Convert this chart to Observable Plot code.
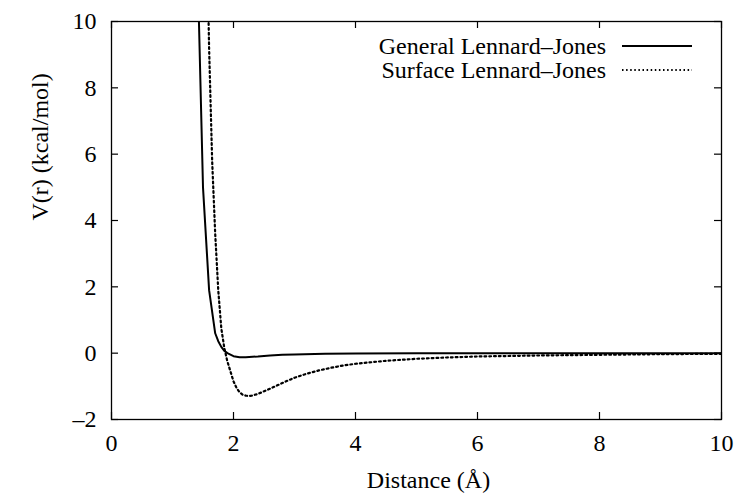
<!DOCTYPE html>
<html>
<head>
<meta charset="utf-8">
<script src="https://cdn.jsdelivr.net/npm/d3@7"></script>
<script src="https://cdn.jsdelivr.net/npm/@observablehq/plot@0.6"></script>
<style>
  html, body { margin: 0; padding: 0; background: #fff; }
  #wrap { position: relative; width: 739px; height: 494px; font-family: "Liberation Serif", "Times New Roman", Times, "DejaVu Serif", serif; }
  #wrap svg text, #wrap svg { font-family: "Liberation Serif", "Times New Roman", Times, "DejaVu Serif", serif !important; }
  #legend { position: absolute; top: 0; left: 0; width: 739px; height: 494px; font-size: 24px; color: #000; pointer-events: none; }
  .row { position: absolute; display: flex; align-items: center; white-space: nowrap; }
</style>
</head>
<body>
<div id="wrap"></div>
<script>
// General Lennard-Jones (solid)
const generalX = [1.4, 1.5, 1.6, 1.7, 1.75, 1.8, 1.85, 1.9, 2.0, 2.1, 2.2, 2.4, 2.6, 2.8, 3.0, 3.5, 4.0, 5.0, 6.0, 7.0, 8.0, 9.0, 10.0];
const generalV = [12.5, 5.0, 1.9, 0.6, 0.36, 0.19, 0.07, 0.0, -0.09, -0.12, -0.12, -0.1, -0.07, -0.05, -0.04, -0.02, -0.01, -0.005, 0, 0, 0, 0, 0];
// Surface Lennard-Jones (dotted)
const surfaceX = [1.55, 1.6, 1.65, 1.7, 1.75, 1.8, 1.85, 1.9, 1.95, 2.0, 2.05, 2.1, 2.15, 2.2, 2.25, 2.3, 2.4, 2.5, 2.6, 2.8, 3.0, 3.2, 3.4, 3.6, 3.8, 4.0, 4.5, 5.0, 5.5, 6.0, 7.0, 8.0, 9.0, 10.0];
const surfaceV = [14, 9.2, 5.8, 3.6, 1.9, 0.75, 0.15, -0.25, -0.55, -0.85, -1.05, -1.18, -1.25, -1.28, -1.29, -1.28, -1.23, -1.15, -1.07, -0.9, -0.74, -0.62, -0.52, -0.44, -0.37, -0.32, -0.23, -0.17, -0.13, -0.1, -0.07, -0.05, -0.03, -0.02];

const seriesNames = ["General Lennard\u2013Jones", "Surface Lennard\u2013Jones"];
const xTicks = [0, 2, 4, 6, 8, 10];
const yTicks = [-2, 0, 2, 4, 6, 8, 10];
const xTitle = "Distance (\u00C5)";
const yTitle = "V(r) (kcal/mol)";

const W = 739, H = 494;
const mL = 111, mR = 18, mT = 21, mB = 75;
const innerW = W - mL - mR, innerH = H - mT - mB;
const tick = 7;
const font = "\"Liberation Serif\", \"Times New Roman\", Times, \"DejaVu Serif\", serif";

const general = generalX.map((x, i) => ({x, v: generalV[i]}));
const surface = surfaceX.map((x, i) => ({x, v: surfaceV[i]}));

const chart = Plot.plot({
  width: W, height: H,
  marginLeft: mL, marginRight: mR, marginTop: mT, marginBottom: mB,
  style: {fontFamily: font, fontSize: "24px", color: "#000", background: "#fff"},
  x: {domain: [0, 10], ticks: xTicks},
  y: {domain: [-2, 10], ticks: yTicks},
  marks: [
    // inward ticks on all four sides
    Plot.tickX(xTicks, {x: d => d, insetTop: innerH - tick, stroke: "#000", strokeWidth: 1.2}),
    Plot.tickX(xTicks, {x: d => d, insetBottom: innerH - tick, stroke: "#000", strokeWidth: 1.2}),
    Plot.tickY(yTicks, {y: d => d, insetRight: innerW - tick, stroke: "#000", strokeWidth: 1.2}),
    Plot.tickY(yTicks, {y: d => d, insetLeft: innerW - tick, stroke: "#000", strokeWidth: 1.2}),
    Plot.axisX(xTicks, {anchor: "bottom", tickSize: 0, tickPadding: 14, label: null, fontSize: 24, tickFormat: d => String(d)}),
    Plot.axisY(yTicks, {anchor: "left", tickSize: 0, tickPadding: 15, label: null, fontSize: 24, tickFormat: d => d < 0 ? "\u2013" + Math.abs(d) : String(d)}),
    Plot.line(general, {x: "x", y: "v", stroke: "#000", strokeWidth: 2, clip: true}),
    Plot.line(surface, {x: "x", y: "v", stroke: "#000", strokeWidth: 2.2, strokeDasharray: "1.8,3", clip: true}),
    Plot.frame({stroke: "#000", strokeWidth: 1.3}),
    Plot.text([xTitle], {frameAnchor: "bottom", dx: 12, dy: 61, lineAnchor: "middle", fontSize: 24}),
    Plot.text([yTitle], {frameAnchor: "left", dx: -71, rotate: -90, lineAnchor: "middle", fontSize: 24})
  ]
});

const wrap = document.getElementById("wrap");
wrap.appendChild(chart);

// Legend overlay (inside plot, top right)
const legend = document.createElement("div");
legend.id = "legend";
const rows = [
  {name: seriesNames[0], dash: null, cy: 46},
  {name: seriesNames[1], dash: "1.5,2.6", cy: 70}
];
rows.forEach(r => {
  const row = document.createElement("div");
  row.className = "row";
  row.style.right = (W - 692) + "px";
  row.style.top = (r.cy - 14) + "px";
  row.style.height = "28px";
  const span = document.createElement("span");
  span.textContent = r.name;
  span.style.marginRight = "16px";
  row.appendChild(span);
  const svg = d3.create("svg").attr("width", 70).attr("height", 10);
  svg.append("line").attr("x1", 0).attr("x2", 70).attr("y1", 5).attr("y2", 5)
    .attr("stroke", "#000").attr("stroke-width", r.dash ? 1.8 : 2.2)
    .attr("stroke-dasharray", r.dash);
  row.appendChild(svg.node());
  legend.appendChild(row);
});
wrap.appendChild(legend);
</script>
</body>
</html>
